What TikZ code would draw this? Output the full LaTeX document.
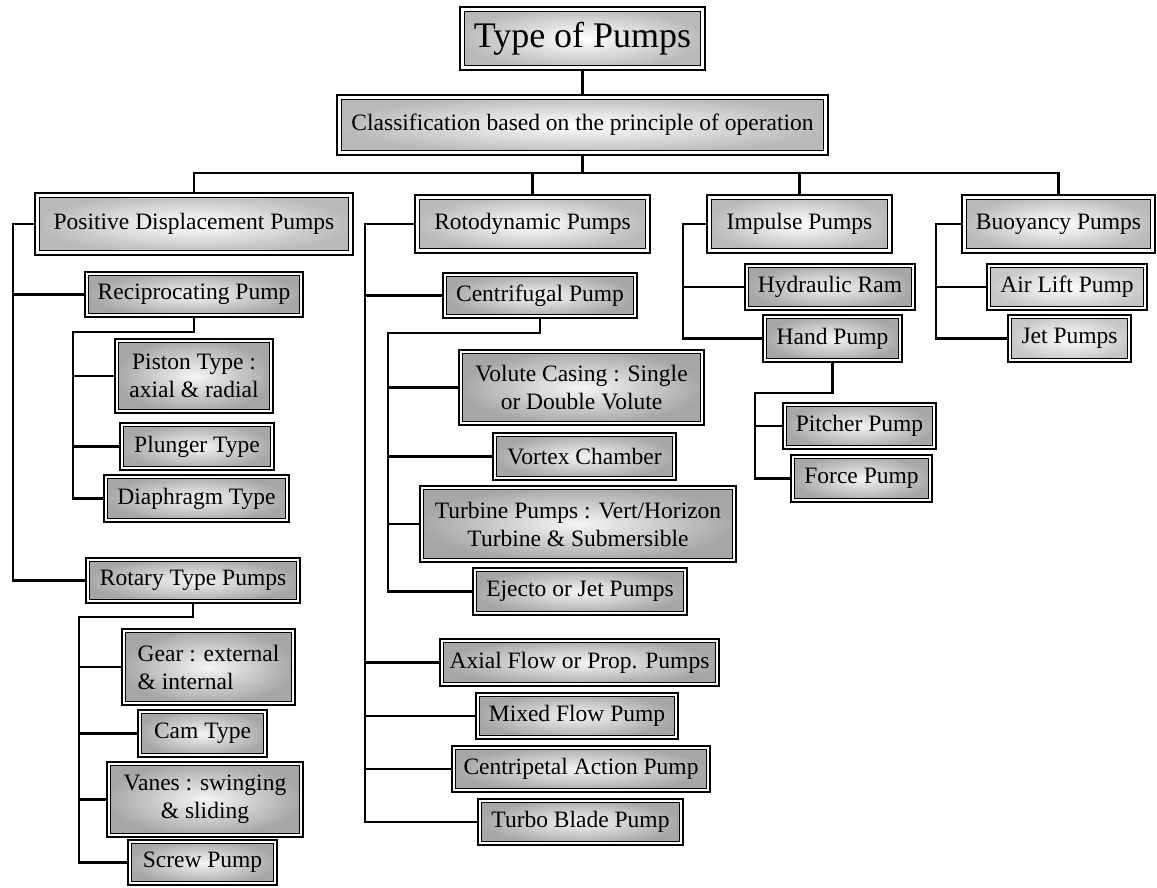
\documentclass[tikz,border=0pt]{standalone}
\usepackage{fontspec}
\setmainfont{Liberation Serif}
\begin{document}
\begin{tikzpicture}[x=1pt,y=-1pt,
  conn/.style={line width=2.7pt, line cap=rect},
  basebox/.style={draw, inner sep=0pt, align=center, font=\fontsize{23.5}{28}\selectfont},
  topbox/.style={basebox, line width=2.6pt, shade, inner color=white, outer color=gray!55,
    path picture={
      \draw[white, line width=2.4pt] ([shift={(2.6pt,-2.6pt)}]path picture bounding box.north west) rectangle ([shift={(-2.6pt,2.6pt)}]path picture bounding box.south east);
      \draw[black, line width=1pt] ([shift={(4.6pt,-4.6pt)}]path picture bounding box.north west) rectangle ([shift={(-4.6pt,4.6pt)}]path picture bounding box.south east);}},
  lowbox/.style={basebox, line width=2.5pt, shade, inner color=gray!8, outer color=gray!70,
    path picture={
      \draw[white, line width=1.2pt] ([shift={(2pt,-2pt)}]path picture bounding box.north west) rectangle ([shift={(-2pt,2pt)}]path picture bounding box.south east);
      \draw[black, line width=0.8pt] ([shift={(3.2pt,-3.2pt)}]path picture bounding box.north west) rectangle ([shift={(-3.2pt,3.2pt)}]path picture bounding box.south east);}},
  lightbox/.style={lowbox, inner color=white, outer color=gray!45},
]
\useasboundingbox (0,0) rectangle (1157,887);

% level 0
\node[topbox, minimum width=245, minimum height=63, font=\fontsize{36}{40}\selectfont] (title) at (582.5,38.5) {Type of Pumps};
\node[topbox, minimum width=491, minimum height=60] (class) at (582.5,125) {Classification based on the principle of operation};

% level 1
\node[topbox, minimum width=318, minimum height=62] (pos) at (194,224) {Positive Displacement Pumps};
\node[topbox, minimum width=235, minimum height=58] (roto) at (532.5,224) {Rotodynamic Pumps};
\node[topbox, minimum width=185, minimum height=58] (imp) at (799.5,224) {Impulse Pumps};
\node[topbox, minimum width=193, minimum height=58] (buoy) at (1058.5,224) {Buoyancy Pumps};

% positive displacement
\node[lowbox, minimum width=218, minimum height=45] (recip) at (194,294.5) {Reciprocating Pump};
\node[lowbox, minimum width=158, minimum height=74] (piston) at (194,376) {Piston Type :\\axial \& radial};
\node[lowbox, minimum width=154, minimum height=47] (plunger) at (197,446.5) {Plunger Type};
\node[lowbox, minimum width=185, minimum height=47] (diaphragm) at (196.5,498.5) {Diaphragm Type};
\node[lowbox, minimum width=214, minimum height=45] (rotary) at (193,580.5) {Rotary Type Pumps};
\node[lowbox, minimum width=173, minimum height=76, align=left] (gear) at (208.5,667) {Gear : external\\\& internal};
\node[lowbox, minimum width=129, minimum height=47] (cam) at (202.5,733.5) {Cam Type};
\node[lowbox, minimum width=196, minimum height=75] (vanes) at (205,799.5) {Vanes : swinging\\\& sliding};
\node[lowbox, minimum width=149, minimum height=45] (screw) at (202.5,862.5) {Screw Pump};

% rotodynamic
\node[lowbox, minimum width=194, minimum height=45] (centrif) at (540,295.5) {Centrifugal Pump};
\node[lowbox, minimum width=245, minimum height=75] (volute) at (581.5,387.5) {Volute Casing : Single\\or Double Volute};
\node[lowbox, minimum width=183, minimum height=47] (vortex) at (584.5,456.5) {Vortex Chamber};
\node[lowbox, minimum width=316, minimum height=76] (turbine) at (578,524) {Turbine Pumps : Vert/Horizon\\Turbine \& Submersible};
\node[lowbox, minimum width=214, minimum height=47] (ejecto) at (580,591.5) {Ejecto or Jet Pumps};
\node[lowbox, minimum width=279, minimum height=47] (axial) at (579.5,662.5) {Axial Flow or Prop. Pumps};
\node[lowbox, minimum width=202, minimum height=46] (mixed) at (577,716) {Mixed Flow Pump};
\node[lowbox, minimum width=258, minimum height=46] (centripetal) at (581,769) {Centripetal Action Pump};
\node[lowbox, minimum width=205, minimum height=46] (turbo) at (580.5,822) {Turbo Blade Pump};

% impulse
\node[lowbox, minimum width=170, minimum height=46] (hydraulic) at (830,287) {Hydraulic Ram};
\node[lowbox, minimum width=139, minimum height=47] (hand) at (832.5,338.5) {Hand Pump};
\node[lowbox, minimum width=153, minimum height=46] (pitcher) at (859.5,426) {Pitcher Pump};
\node[lowbox, minimum width=141, minimum height=47] (force) at (861.5,478.5) {Force Pump};

% buoyancy
\node[lightbox, minimum width=160, minimum height=46] (airlift) at (1067,287) {Air Lift Pump};
\node[lightbox, minimum width=123, minimum height=47] (jet) at (1069.5,338.5) {Jet Pumps};

% junction coordinates
\coordinate (bus) at (582.5,173);
\coordinate (pv) at (13,224);
\coordinate (rj) at (73,332);
\coordinate (rr) at (79,617);
\coordinate (rv) at (365,224);
\coordinate (cj) at (388,333);
\coordinate (iv) at (683,224);
\coordinate (hj) at (755,393);
\coordinate (bv) at (936,224);

% connectors
\draw[conn] (title.south) -- (class.north);
\draw[conn] (class.south) -- (bus);
\draw[conn] (pos.north) |- (bus);
\draw[conn] (roto.north) |- (bus);
\draw[conn] (imp.north) |- (bus);
\draw[conn] (buoy.north) |- (bus);

\draw[conn] (pos.west) -- (pv) -- (pv |- rotary.west) -- (rotary.west);
\draw[conn] (recip.west) -- (pv |- recip.west);
\draw[conn] (recip.south) |- (rj) -- (rj |- diaphragm.west) -- (diaphragm.west);
\draw[conn] (piston.west) -- (rj |- piston.west);
\draw[conn] (plunger.west) -- (rj |- plunger.west);
\draw[conn] (rotary.south) |- (rr) -- (rr |- screw.west) -- (screw.west);
\draw[conn] (gear.west) -- (rr |- gear.west);
\draw[conn] (cam.west) -- (rr |- cam.west);
\draw[conn] (vanes.west) -- (rr |- vanes.west);

\draw[conn] (roto.west) -- (rv) -- (rv |- turbo.west) -- (turbo.west);
\draw[conn] (centrif.west) -- (rv |- centrif.west);
\draw[conn] (axial.west) -- (rv |- axial.west);
\draw[conn] (mixed.west) -- (rv |- mixed.west);
\draw[conn] (centripetal.west) -- (rv |- centripetal.west);
\draw[conn] (centrif.south) |- (cj) -- (cj |- ejecto.west) -- (ejecto.west);
\draw[conn] (volute.west) -- (cj |- volute.west);
\draw[conn] (vortex.west) -- (cj |- vortex.west);
\draw[conn] (turbine.west) -- (cj |- turbine.west);

\draw[conn] (imp.west) -- (iv) -- (iv |- hand.west) -- (hand.west);
\draw[conn] (hydraulic.west) -- (iv |- hydraulic.west);
\draw[conn] (hand.south) |- (hj) -- (hj |- force.west) -- (force.west);
\draw[conn] (pitcher.west) -- (hj |- pitcher.west);

\draw[conn] (buoy.west) -- (bv) -- (bv |- jet.west) -- (jet.west);
\draw[conn] (airlift.west) -- (bv |- airlift.west);
\end{tikzpicture}
\end{document}
